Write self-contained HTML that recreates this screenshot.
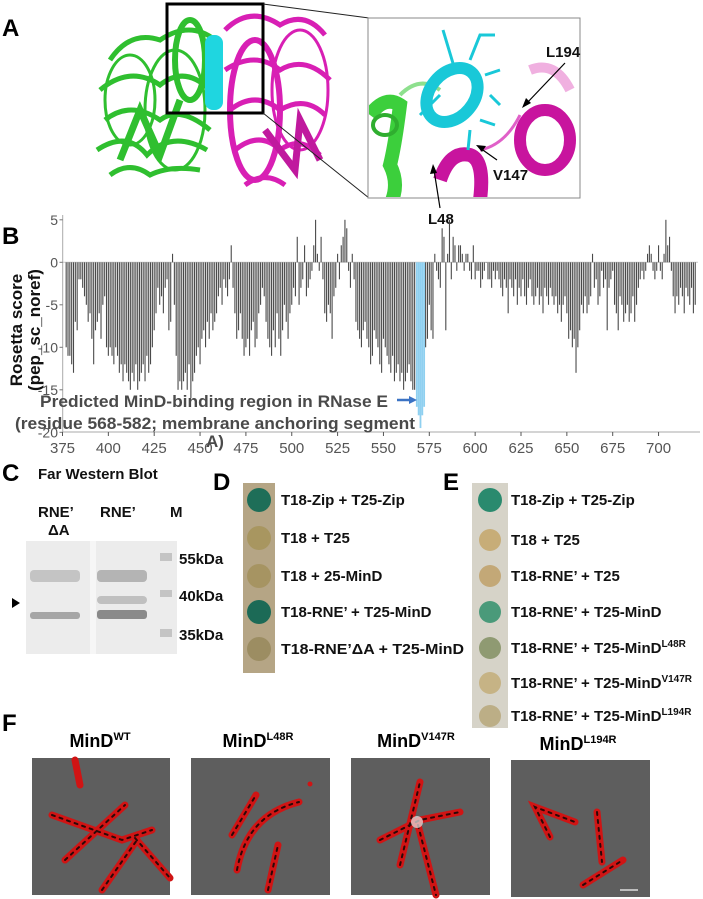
<!DOCTYPE html>
<html><head><meta charset="utf-8"><style>
html,body{margin:0;padding:0;background:#fff;}
#fig{position:relative;width:703px;height:899px;overflow:hidden;font-family:"Liberation Sans",sans-serif;}
svg text{font-family:"Liberation Sans",sans-serif;}
.lbl{font-weight:bold;font-size:15px;fill:#111;}
.pl{font-weight:bold;font-size:24px;fill:#000;}
</style></head><body>
<div id="fig">
<svg id="s" width="703" height="899" viewBox="0 0 703 899" xmlns="http://www.w3.org/2000/svg">
<!-- PANEL A -->
<g>
<text class="pl" x="2" y="36">A</text>
<g fill="none" stroke="#2fbf2f" stroke-width="5">
<path d="M110 60 q20 -30 50 -20 q30 -20 55 0" />
<path d="M100 90 q30 -25 60 -5 q25 -20 50 5"/>
<path d="M105 120 q25 -20 55 0 q20 -15 50 10"/>
<path d="M97 150 q30 -20 50 5 q25 -25 60 -5"/>
<path d="M110 175 q20 -15 40 0 q20 -10 50 -5"/>
<ellipse cx="130" cy="100" rx="25" ry="45" stroke-width="3"/>
<ellipse cx="175" cy="110" rx="30" ry="60" stroke-width="3"/>
<ellipse cx="190" cy="60" rx="15" ry="40" stroke-width="6"/>
<path d="M120 160 l20 -50 l20 45 l20 -55" stroke-width="7"/>
</g>
<g fill="none" stroke="#d81fb4" stroke-width="5">
<path d="M225 30 q25 -25 55 -5 q25 -15 45 10"/>
<path d="M225 70 q30 -20 55 0 q25 -15 50 10"/>
<path d="M230 110 q25 -20 50 0 q25 -15 45 5"/>
<path d="M235 150 q25 -20 45 0 q20 -15 40 5"/>
<path d="M245 185 q20 -15 40 0"/>
<ellipse cx="255" cy="110" rx="25" ry="70" stroke-width="6"/>
<ellipse cx="300" cy="90" rx="28" ry="60" stroke-width="3"/>
<path d="M265 130 l30 40 l5 -50 l20 40" stroke-width="7" stroke="#c0199e"/>
</g>
<g>
<rect x="205" y="35" width="18" height="75" rx="8" fill="#1fd6e0"/>
</g>
<rect x="167" y="4" width="96" height="109" fill="none" stroke="#000" stroke-width="3"/>
<line x1="263" y1="4" x2="369" y2="18" stroke="#222" stroke-width="1"/>
<line x1="263" y1="113" x2="369" y2="198" stroke="#222" stroke-width="1"/>
<g>
<rect x="368" y="18" width="212" height="180" fill="#fff" stroke="#888" stroke-width="1"/>
<clipPath id="ic"><rect x="369" y="19" width="210" height="178"/></clipPath>
<g clip-path="url(#ic)">
<path d="M370 115 q15 -20 30 -10 q-5 40 -10 60 q10 20 0 40" fill="none" stroke="#3ccf3c" stroke-width="14"/>
<path d="M400 95 q20 -20 40 -5" fill="none" stroke="#8ee08e" stroke-width="4"/>
<ellipse cx="385" cy="125" rx="12" ry="10" fill="none" stroke="#2fae2f" stroke-width="4"/>
<path d="M440 180 q10 -30 30 -25 q15 5 10 45" fill="none" stroke="#c8149e" stroke-width="14"/>
<ellipse cx="545" cy="140" rx="25" ry="30" fill="none" stroke="#c8149e" stroke-width="12"/>
<path d="M530 70 q25 -10 40 20" fill="none" stroke="#f0b0e0" stroke-width="10"/>
<path d="M480 150 q25 -5 40 -35" fill="none" stroke="#e060c8" stroke-width="3"/>
<ellipse cx="452" cy="95" rx="22" ry="30" fill="none" stroke="#19c8d8" stroke-width="12" transform="rotate(40 452 95)"/>
<path d="M440 95 l-20 20 M455 70 l-12 -40 M470 60 l10 -25 l15 0 M485 75 l15 -5 M490 95 l10 10 M480 120 l15 5 M470 130 l-2 20" fill="none" stroke="#19c8d8" stroke-width="3"/>
</g>
<text class="lbl" x="546" y="57" font-size="15">L194</text>
<line x1="565" y1="63" x2="526" y2="104" stroke="#000" stroke-width="1.2"/>
<polygon points="522,108 526,98 531,103" fill="#000"/>
<text class="lbl" x="493" y="180" font-size="15">V147</text>
<line x1="497" y1="160" x2="480" y2="148" stroke="#000" stroke-width="1.2"/>
<polygon points="476,145 486,146 482,152" fill="#000"/>
<text class="lbl" x="428" y="224" font-size="15">L48</text>
<line x1="440" y1="208" x2="434" y2="170" stroke="#000" stroke-width="1.2"/>
<polygon points="433,164 430,174 437,173" fill="#000"/>
</g>
</g>
<!-- PANEL B -->
<g id="chartB">
<text class="pl" x="2" y="244">B</text>
<text transform="translate(22,330) rotate(-90)" text-anchor="middle" font-weight="bold" font-size="17" fill="#111">Rosetta score</text>
<text transform="translate(40,330) rotate(-90)" text-anchor="middle" font-weight="bold" font-size="17" fill="#111">(pep_sc_noref)</text>
<g id="bars"></g>
<g id="axes"></g>
<text x="40" y="407" font-weight="bold" font-size="17" fill="#4a4a4a" textLength="348" lengthAdjust="spacingAndGlyphs">Predicted MinD-binding region in RNase E</text>
<text x="15" y="429" font-weight="bold" font-size="17" fill="#4a4a4a" textLength="400" lengthAdjust="spacingAndGlyphs">(residue 568-582; membrane anchoring segment</text>
<text x="206" y="447" font-weight="bold" font-size="17" fill="#4a4a4a">A)</text>
<line x1="397" y1="400" x2="410" y2="400" stroke="#3b73c4" stroke-width="2.5"/>
<polygon points="417,400 409,396 409,404" fill="#3b73c4"/>
</g>
<!-- PANEL C -->
<g>
<text class="pl" x="2" y="481">C</text>
<text class="lbl" x="38" y="479" font-size="16">Far Western Blot</text>
<text class="lbl" x="38" y="517">RNE’</text>
<text class="lbl" x="48" y="535">ΔA</text>
<text class="lbl" x="100" y="517">RNE’</text>
<text class="lbl" x="170" y="517">M</text>
<rect x="26" y="541" width="151" height="113" fill="#ececec"/>
<rect x="90" y="541" width="6" height="113" fill="#f6f6f6"/>
<rect x="30" y="570" width="50" height="12" rx="4" fill="#c4c4c4"/>
<rect x="97" y="570" width="50" height="12" rx="4" fill="#b4b4b4"/>
<rect x="97" y="596" width="50" height="8" rx="4" fill="#c0c0c0"/>
<rect x="30" y="612" width="50" height="7" rx="3" fill="#a6a6a6"/>
<rect x="97" y="610" width="50" height="9" rx="3" fill="#8a8a8a"/>
<rect x="160" y="553" width="12" height="8" fill="#c4c4c4"/>
<rect x="160" y="590" width="12" height="7" fill="#c4c4c4"/>
<rect x="160" y="629" width="12" height="8" fill="#c4c4c4"/>
<text class="lbl" x="179" y="564">55kDa</text>
<text class="lbl" x="179" y="601">40kDa</text>
<text class="lbl" x="179" y="640">35kDa</text>
<polygon points="12,598 20,603 12,608" fill="#000"/>
</g>
<!-- PANEL D -->
<g>
<text class="pl" x="213" y="490">D</text>
<rect x="243" y="483" width="32" height="190" fill="#b5a585"/>
<circle cx="259" cy="500" r="12" fill="#1e6e58"/>
<circle cx="259" cy="538" r="12" fill="#a89660"/>
<circle cx="259" cy="576" r="12" fill="#a69462"/>
<circle cx="259" cy="612" r="12" fill="#1c6a56"/>
<circle cx="259" cy="649" r="12" fill="#9c8d62"/>
<text class="lbl" x="281" y="505">T18-Zip + T25-Zip</text>
<text class="lbl" x="281" y="543">T18 + T25</text>
<text class="lbl" x="281" y="581">T18 + 25-MinD</text>
<text class="lbl" x="281" y="617">T18-RNE’ + T25-MinD</text>
<text class="lbl" x="281" y="654" textLength="183" lengthAdjust="spacingAndGlyphs">T18-RNE’ΔA + T25-MinD</text>
</g>
<!-- PANEL E -->
<g>
<text class="pl" x="443" y="490">E</text>
<rect x="472" y="483" width="36" height="245" fill="#d6d3c8"/>
<circle cx="490" cy="500" r="12" fill="#2a8a6e"/>
<circle cx="490" cy="540" r="11" fill="#c7ad78"/>
<circle cx="490" cy="576" r="11" fill="#c3a877"/>
<circle cx="490" cy="612" r="11" fill="#4a9a7a"/>
<circle cx="490" cy="648" r="11" fill="#8f9a72"/>
<circle cx="490" cy="683" r="11" fill="#c6b385"/>
<circle cx="490" cy="716" r="11" fill="#bcae86"/>
<text class="lbl" x="511" y="505">T18-Zip + T25-Zip</text>
<text class="lbl" x="511" y="545">T18 + T25</text>
<text class="lbl" x="511" y="581">T18-RNE’ + T25</text>
<text class="lbl" x="511" y="617">T18-RNE’ + T25-MinD</text>
<text class="lbl" x="511" y="653">T18-RNE’ + T25-MinD<tspan font-size="10" dy="-6">L48R</tspan></text>
<text class="lbl" x="511" y="688">T18-RNE’ + T25-MinD<tspan font-size="10" dy="-6">V147R</tspan></text>
<text class="lbl" x="511" y="721">T18-RNE’ + T25-MinD<tspan font-size="10" dy="-6">L194R</tspan></text>
</g>
<!-- PANEL F -->
<g>
<text class="pl" x="2" y="731">F</text>
<text x="100" y="747" text-anchor="middle" font-weight="bold" font-size="18">MinD<tspan font-size="11" dy="-7">WT</tspan></text>
<text x="258" y="747" text-anchor="middle" font-weight="bold" font-size="18">MinD<tspan font-size="11" dy="-7">L48R</tspan></text>
<text x="416" y="747" text-anchor="middle" font-weight="bold" font-size="18">MinD<tspan font-size="11" dy="-7">V147R</tspan></text>
<text x="578" y="750" text-anchor="middle" font-weight="bold" font-size="18">MinD<tspan font-size="11" dy="-7">L194R</tspan></text>
<g>
<rect x="32" y="758" width="138" height="137" fill="#5e5e5e"/>
<g stroke-linecap="round" fill="none"><g stroke="#d01414" stroke-width="7">
<path d="M52 815 l70 25 l30 -10"/><path d="M65 860 l60 -55"/><path d="M135 838 l35 40"/><path d="M102 890 l35 -50"/><path d="M75 760 l5 25"/></g>
<g stroke="#2a0808" stroke-width="2" stroke-dasharray="3 5"><path d="M52 815 l70 25 l30 -10"/><path d="M65 860 l60 -55"/><path d="M135 838 l35 40"/><path d="M102 890 l35 -50"/></g></g>
</g>
<g>
<rect x="191" y="758" width="139" height="137" fill="#5e5e5e"/>
<g stroke-linecap="round" fill="none"><g stroke="#d01414" stroke-width="7">
<path d="M232 835 l24 -40"/><path d="M237 870 q10 -55 62 -68"/><path d="M268 890 l10 -45"/></g>
<g stroke="#2a0808" stroke-width="2" stroke-dasharray="3 5"><path d="M232 835 l24 -40"/><path d="M237 870 q10 -55 62 -68"/><path d="M268 890 l10 -45"/></g></g>
<circle cx="310" cy="784" r="2.5" fill="#d01414"/>
</g>
<g>
<rect x="351" y="758" width="139" height="137" fill="#5e5e5e"/>
<g stroke-linecap="round" fill="none"><g stroke="#d01414" stroke-width="7">
<path d="M400 865 l20 -83"/><path d="M380 840 l40 -20 l40 -8"/><path d="M418 825 l18 70"/></g>
<g stroke="#2a0808" stroke-width="2" stroke-dasharray="3 5"><path d="M400 865 l20 -83"/><path d="M380 840 l40 -20 l40 -8"/><path d="M418 825 l18 70"/></g></g>
<circle cx="417" cy="822" r="6" fill="#e8e8e8" opacity="0.7"/>
</g>
<g>
<rect x="511" y="760" width="139" height="137" fill="#5e5e5e"/>
<g stroke-linecap="round" fill="none"><g stroke="#d01414" stroke-width="7">
<path d="M550 837 l-15 -30 l40 15"/><path d="M597 812 l5 50"/><path d="M583 885 l40 -25"/></g>
<g stroke="#2a0808" stroke-width="2" stroke-dasharray="3 5"><path d="M550 837 l-15 -30 l40 15"/><path d="M597 812 l5 50"/><path d="M583 885 l40 -25"/></g></g>
<line x1="620" y1="890" x2="638" y2="890" stroke="#ddd" stroke-width="1.5"/>
</g>
</g>
</svg>
</div>
<script>
const residueStart = 377;
const scores = [
-10,-11,-11,-12,-13,-7,-8,-2,-2,-3,
-4,-5,-7,-6,-9,-12,-8,-7,-6,-9,
-5,-4,-10,-11,-10,-11,-12,-10,-11,-13,
-12,-14,-12,-13,-14,-15,-13,-14,-12,-15,
-14,-13,-12,-14,-11,-13,-12,-10,-8,-6,
-3,-5,-4,-6,-3,-2,-8,-7,1,-5,
-11,-15,-14,-15,-14,-13,-15,-12,-16,-14,
-13,-11,-10,-12,-9,-8,-10,-7,-9,-6,
-8,-7,-6,-4,-3,-5,-2,-3,-4,-2,
2,-3,-6,-9,-8,-6,-9,-11,-10,-9,
-11,-8,-7,-10,-9,-6,-5,-3,-4,-7,
-9,-10,-11,-8,-10,-6,-9,-11,-8,-5,
-7,-9,-6,-5,-3,-4,3,-5,-3,-2,
2,-4,-3,-2,-1,2,5,1,-1,3,
-2,-6,-7,-5,-6,-9,-4,-3,1,-2,
2,3,5,4,-1,-3,1,-2,-7,-8,
-9,-10,-8,-7,-9,-10,-12,-11,-8,-9,
-10,-12,-13,-9,-10,-11,-12,-13,-11,-14,
-13,-12,-14,-13,-15,-14,-13,-12,-14,-15,
-15,
-17,-18,-19.5,-18,-17,
-10,-9,-5,-8,-9,1,-1,-2,-3,4,
3,-8,1,5,-2,3,2,-1,2,2,
1,-1,1,1,-1,-2,2,-2,-1,-1,
-3,-2,-1,0,-2,-2,-3,-1,-2,-1,
-2,-3,-4,-2,-3,-6,-2,-3,-4,-2,
-5,-3,-4,-2,-4,-5,-3,-2,-4,-5,
-4,-3,-5,-4,-6,-3,-4,-5,-3,-4,
-5,-4,-6,-5,-7,-5,-4,-6,-9,-8,
-10,-9,-13,-10,-8,-5,-6,-4,-6,-5,
-4,1,-3,-2,-5,-4,-1,-3,-2,-8,
-3,-2,-1,-5,-6,-8,-4,-5,-7,-6,
-5,-7,-6,-4,-7,-5,-3,-2,-1,-2,
-1,1,2,1,-1,-2,-1,2,-1,-2,
1,5,2,3,-1,-4,-6,-4,-5,-3,
-4,-6,-3,-4,-5,-3,-6,-5
];
const highlightStart = 568;
const highlightEnd = 572;
const xTicks = [375,400,425,450,475,500,525,550,575,600,625,650,675,700];
const yTicks = [5,0,-5,-10,-15,-20];

const NS = "http://www.w3.org/2000/svg";
function xs(r){ return 62.5 + (r - 375) * 1.834; }
function ys(v){ return 262.3 - v * 8.5; }
const bars = document.getElementById('bars');
const axes = document.getElementById('axes');
const zl = document.createElementNS(NS,'line');
zl.setAttribute('x1',63); zl.setAttribute('x2',698); zl.setAttribute('y1',ys(0)); zl.setAttribute('y2',ys(0));
zl.setAttribute('stroke','#ccc'); zl.setAttribute('stroke-width','1');


bars.appendChild(zl);
scores.forEach(function(v,i){
  const r = residueStart + i;
  const rect = document.createElementNS(NS,'rect');
  const y0 = ys(0), y1 = ys(v);
  rect.setAttribute('x', xs(r) - 0.55);
  rect.setAttribute('width', 1.1);
  rect.setAttribute('y', Math.min(y0,y1));
  rect.setAttribute('height', Math.max(0.5, Math.abs(y1-y0)));
  const hl = r >= highlightStart && r <= highlightEnd;
  rect.setAttribute('fill', hl ? '#8fd0f0' : '#4a4a4a');
  if (hl) { rect.setAttribute('width', 1.8); }
  
  
  bars.appendChild(rect);
});
function line(x1,y1,x2,y2,c,w){const l=document.createElementNS(NS,'line');l.setAttribute('x1',x1);l.setAttribute('y1',y1);l.setAttribute('x2',x2);l.setAttribute('y2',y2);l.setAttribute('stroke',c);l.setAttribute('stroke-width',w);return l;}
const yAxis = line(62.7,215,62.7,432,'#aaa',1);


axes.appendChild(yAxis);
const xAxis = line(62.7,432,700,432,'#aaa',1);


axes.appendChild(xAxis);
yTicks.forEach(function(t){
  const tk = line(59.5,ys(t),62.7,ys(t),'#777',1);
  
  
  axes.appendChild(tk);
  const tx = document.createElementNS(NS,'text');
  tx.setAttribute('x',58); tx.setAttribute('y',ys(t)+5);
  tx.setAttribute('text-anchor','end'); tx.setAttribute('font-size','14'); tx.setAttribute('fill','#555');
  tx.textContent = String(t);
  
  
  axes.appendChild(tx);
});
xTicks.forEach(function(t){
  const tk = line(xs(t),432,xs(t),436,'#555',1);
  
  
  axes.appendChild(tk);
  const tx = document.createElementNS(NS,'text');
  tx.setAttribute('x',xs(t)); tx.setAttribute('y',453);
  tx.setAttribute('text-anchor','middle'); tx.setAttribute('font-size','15'); tx.setAttribute('fill','#555');
  tx.textContent = String(t);
  
  
  axes.appendChild(tx);
});
</script>
</body></html>
